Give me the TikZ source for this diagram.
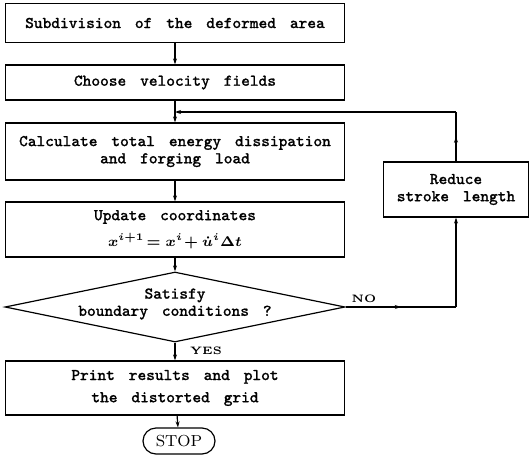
\documentclass[tikz,border=0pt]{standalone}
\usepackage{fontspec}
\setmonofont{Latin Modern Mono}[WordSpace=1.6, FakeBold=1.2]
\usepackage{amsmath,amssymb}
\usetikzlibrary{arrows.meta,shapes.geometric,shapes.misc,decorations.markings}

\begin{document}
\begin{tikzpicture}[x=0.5pt,y=-0.5pt]
\tikzstyle{every node}+=[inner sep=0pt]
\tikzstyle{box}=[draw, line width=0.6pt, align=center, minimum width=169.5pt, font=\fontsize{8.2}{8.6}\selectfont\ttfamily]
\tikzstyle{line}=[line width=0.6pt, -{Stealth[length=3pt,width=2pt]}]
\tikzstyle{midarrow}=[line width=0.6pt, postaction=decorate, decoration={markings, mark=at position 0.5 with {\arrow{Stealth[length=3pt,width=2pt]}}}]
\tikzstyle{yesno}=[font=\fontsize{5.4}{6}\selectfont\bfseries]
\useasboundingbox (0,0) rectangle (529,466);
\node [box, minimum height=19.5pt] (sub) at (175,23) {Subdivision of the deformed area};
\node [box, minimum height=17.5pt] (choose) at (175,82.5) {Choose velocity fields};
\node [box, minimum height=28.5pt] (calc) at (175,151.5) {Calculate total energy dissipation\\and forging load};
\node [box, minimum height=27.5pt] (update) at (175,229.5) {Update coordinates\\[4.5pt]{\fontsize{7.4}{8}\selectfont$\boldsymbol{x^{i+1}\!=x^{i}\!+\dot{u}^{i}\Delta t}$}};
\node [draw, diamond, line width=0.6pt, minimum width=170pt, minimum height=35pt] (cond) at (175,307) {};
\node [font=\fontsize{8.2}{8.6}\selectfont\ttfamily, align=center] (condtext) at (175,304) {Satisfy\\boundary conditions ?};
\node [box, minimum height=27pt] (print) at (175,388) {Print results and plot\\[2.5pt]the distorted grid};
\node [draw, rounded rectangle, line width=0.6pt, minimum width=36pt, minimum height=13pt, font=\fontsize{8}{9}\selectfont\rmfamily] (stop) at (179,441) {STOP};
\node [box, minimum width=72.5pt, minimum height=27.5pt] (reduce) at (456,189.5) {Reduce\\stroke length};
\node [yesno] (yes) at (206,351) {YES};
\node [yesno] (no) at (364,299) {NO};
\coordinate (join) at (175,112);
\coordinate (topright) at (reduce.north |- join);
\coordinate (noend) at (reduce.south |- cond.east);
\draw [line] (sub) -- (choose);
\draw [line] (choose) -- (calc);
\draw [line] (calc) -- (update);
\draw [line] (update) -- (cond);
\draw [line] (cond) -- (print);
\draw [line] (print) -- (stop);
\draw [midarrow] (cond.east) -- (noend);
\draw [line] (noend) -- (reduce.south);
\draw [midarrow, -] (reduce.north) -- (topright);
\draw [line] (topright) -- (join);
\end{tikzpicture}
\end{document}
